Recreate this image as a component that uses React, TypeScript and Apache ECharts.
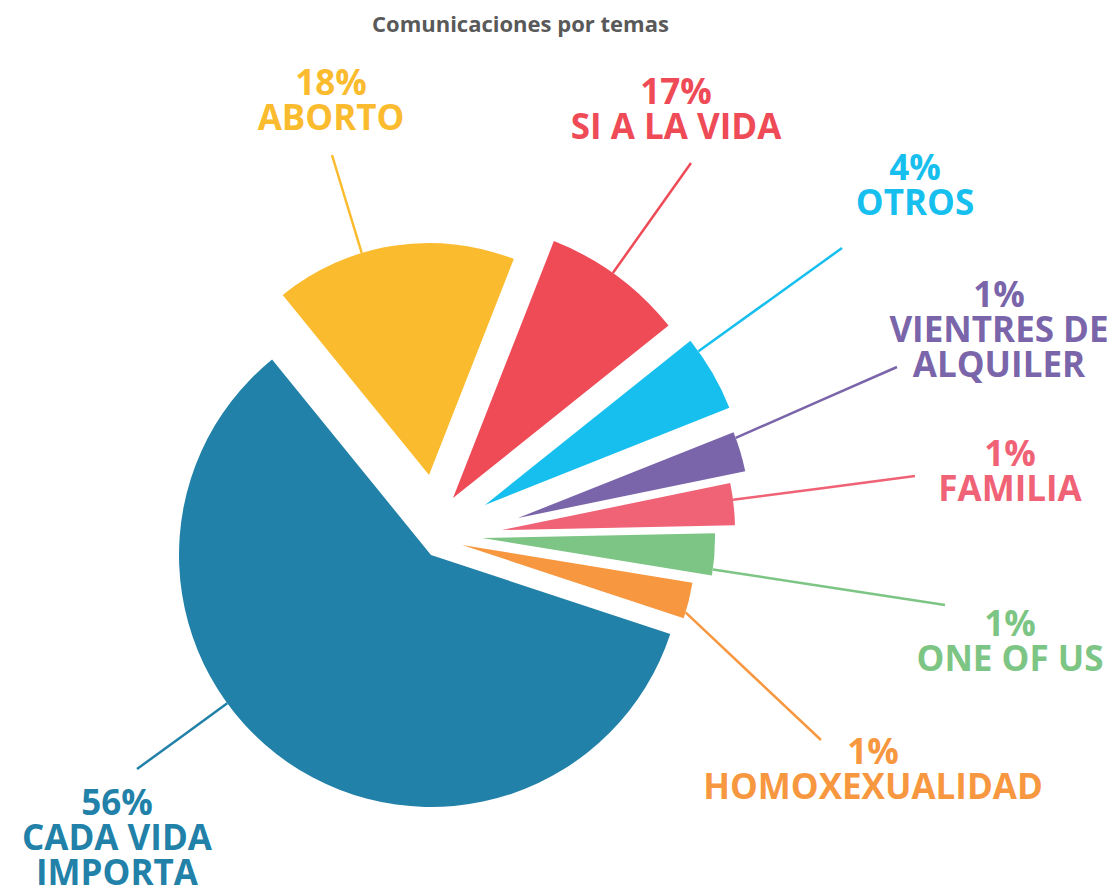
import React, { useEffect, useRef } from "react";
import * as echarts from "echarts";

// ---------- data ----------
const chartTitle = "Comunicaciones por temas";
const categories = [
  "ABORTO",
  "SI A LA VIDA",
  "OTROS",
  "VIENTRES DE\nALQUILER",
  "FAMILIA",
  "ONE OF US",
  "HOMOXEXUALIDAD",
  "CADA VIDA\nIMPORTA",
];
const percentLabels = ["18%", "17%", "4%", "1%", "1%", "1%", "1%", "56%"];
// slice sizes as drawn in the picture (share of the circle, %)
const sliceShares = [16.8, 8.3, 4.7, 2.8, 2.9, 2.9, 2.5, 59.0];

// ---------- style / layout ----------
const colors = ["#FBBB2E", "#EE4B57", "#17BFEE", "#7A65AA", "#F06275", "#7DC584", "#F79740", "#2281A8"];
const sliceCenters = [
  [429, 475], [453, 498], [485, 505], [518, 518],
  [502, 530], [482, 538], [462, 545], [431, 555],
];
const sliceRadii = [232, 276, 263, 232, 233, 233, 233.5, 252];
const labelCenters = [
  [331, 99], [676, 108], [915, 184], [999, 328],
  [1010, 470], [1010, 640], [873, 768], [117, 836],
];
const leaderEnds = [
  [332, 155], [691, 163], [842, 248], [897, 367],
  [915, 476], [945, 605], [821, 740], [137, 769],
];
const START_ANGLE = 129.1;
const FONT = "'Open Sans', 'DejaVu Sans', sans-serif";

function sliceAngles() {
  const total = sliceShares.reduce((a, b) => a + b, 0);
  let cur = START_ANGLE;
  return sliceShares.map((v) => {
    const s = cur;
    const e = cur - (v / total) * 360;
    cur = e;
    return [s, e];
  });
}

export default function App() {
  const ref = useRef<HTMLDivElement>(null);
  useEffect(() => {
    document.body.style.margin = "0";
    if (!ref.current) return;
    const chart = echarts.init(ref.current, null, { renderer: "svg" });
    const angles = sliceAngles();

    const series = categories.map((_, i) => ({
      type: "pie",
      silent: true,
      clockwise: true,
      startAngle: START_ANGLE,
      center: sliceCenters[i],
      radius: [0, sliceRadii[i]],
      avoidLabelOverlap: false,
      emphasis: { disabled: true },
      label: {
        position: "outside",
        formatter: (p: any) => percentLabels[p.dataIndex] + "\n" + categories[p.dataIndex],
        fontFamily: FONT,
        fontWeight: "bold",
        fontSize: 35,
        lineHeight: 35,
        align: "center",
      },
      labelLine: { show: true, lineStyle: { width: 2.5 } },
      labelLayout: (params: any) => {
        if (params.dataIndex !== i) return {};
        const [cx, cy] = sliceCenters[i];
        const r = sliceRadii[i];
        const [ex, ey] = leaderEnds[i];
        const [s, e] = angles[i];
        let a = (Math.atan2(-(ey - cy), ex - cx) * 180) / Math.PI;
        while (a > s) a -= 360;
        while (a < e) a += 360;
        if (a > s) {
          const dS = a - s;
          const dE = e + 360 - a;
          a = dS < dE ? s : e;
        }
        const m = 1.5;
        a = Math.min(s - m, Math.max(e + m, a));
        const rad = (a * Math.PI) / 180;
        const sx = cx + r * Math.cos(rad);
        const sy = cy - r * Math.sin(rad);
        return {
          x: labelCenters[i][0],
          y: labelCenters[i][1],
          align: "center",
          verticalAlign: "middle",
          labelLinePoints: [
            [sx, sy],
            [(sx + ex) / 2, (sy + ey) / 2],
            [ex, ey],
          ],
        };
      },
      data: categories.map((name, j) => ({
        name,
        value: sliceShares[j],
        itemStyle: { color: colors[j], opacity: j === i ? 1 : 0 },
        label: { show: j === i, color: colors[j] },
        labelLine: { show: j === i, lineStyle: { color: colors[j], width: 2.5 } },
      })),
    }));

    chart.setOption({
      animation: false,
      backgroundColor: "#ffffff",
      title: {
        text: chartTitle,
        left: 372,
        top: 12,
        padding: 0,
        textStyle: { fontFamily: FONT, fontWeight: "bold", fontSize: 22, color: "#595959" },
      },
      series,
    } as any);
    return () => chart.dispose();
  }, []);
  return <div ref={ref} style={{ width: 1118, height: 888 }} />;
}
